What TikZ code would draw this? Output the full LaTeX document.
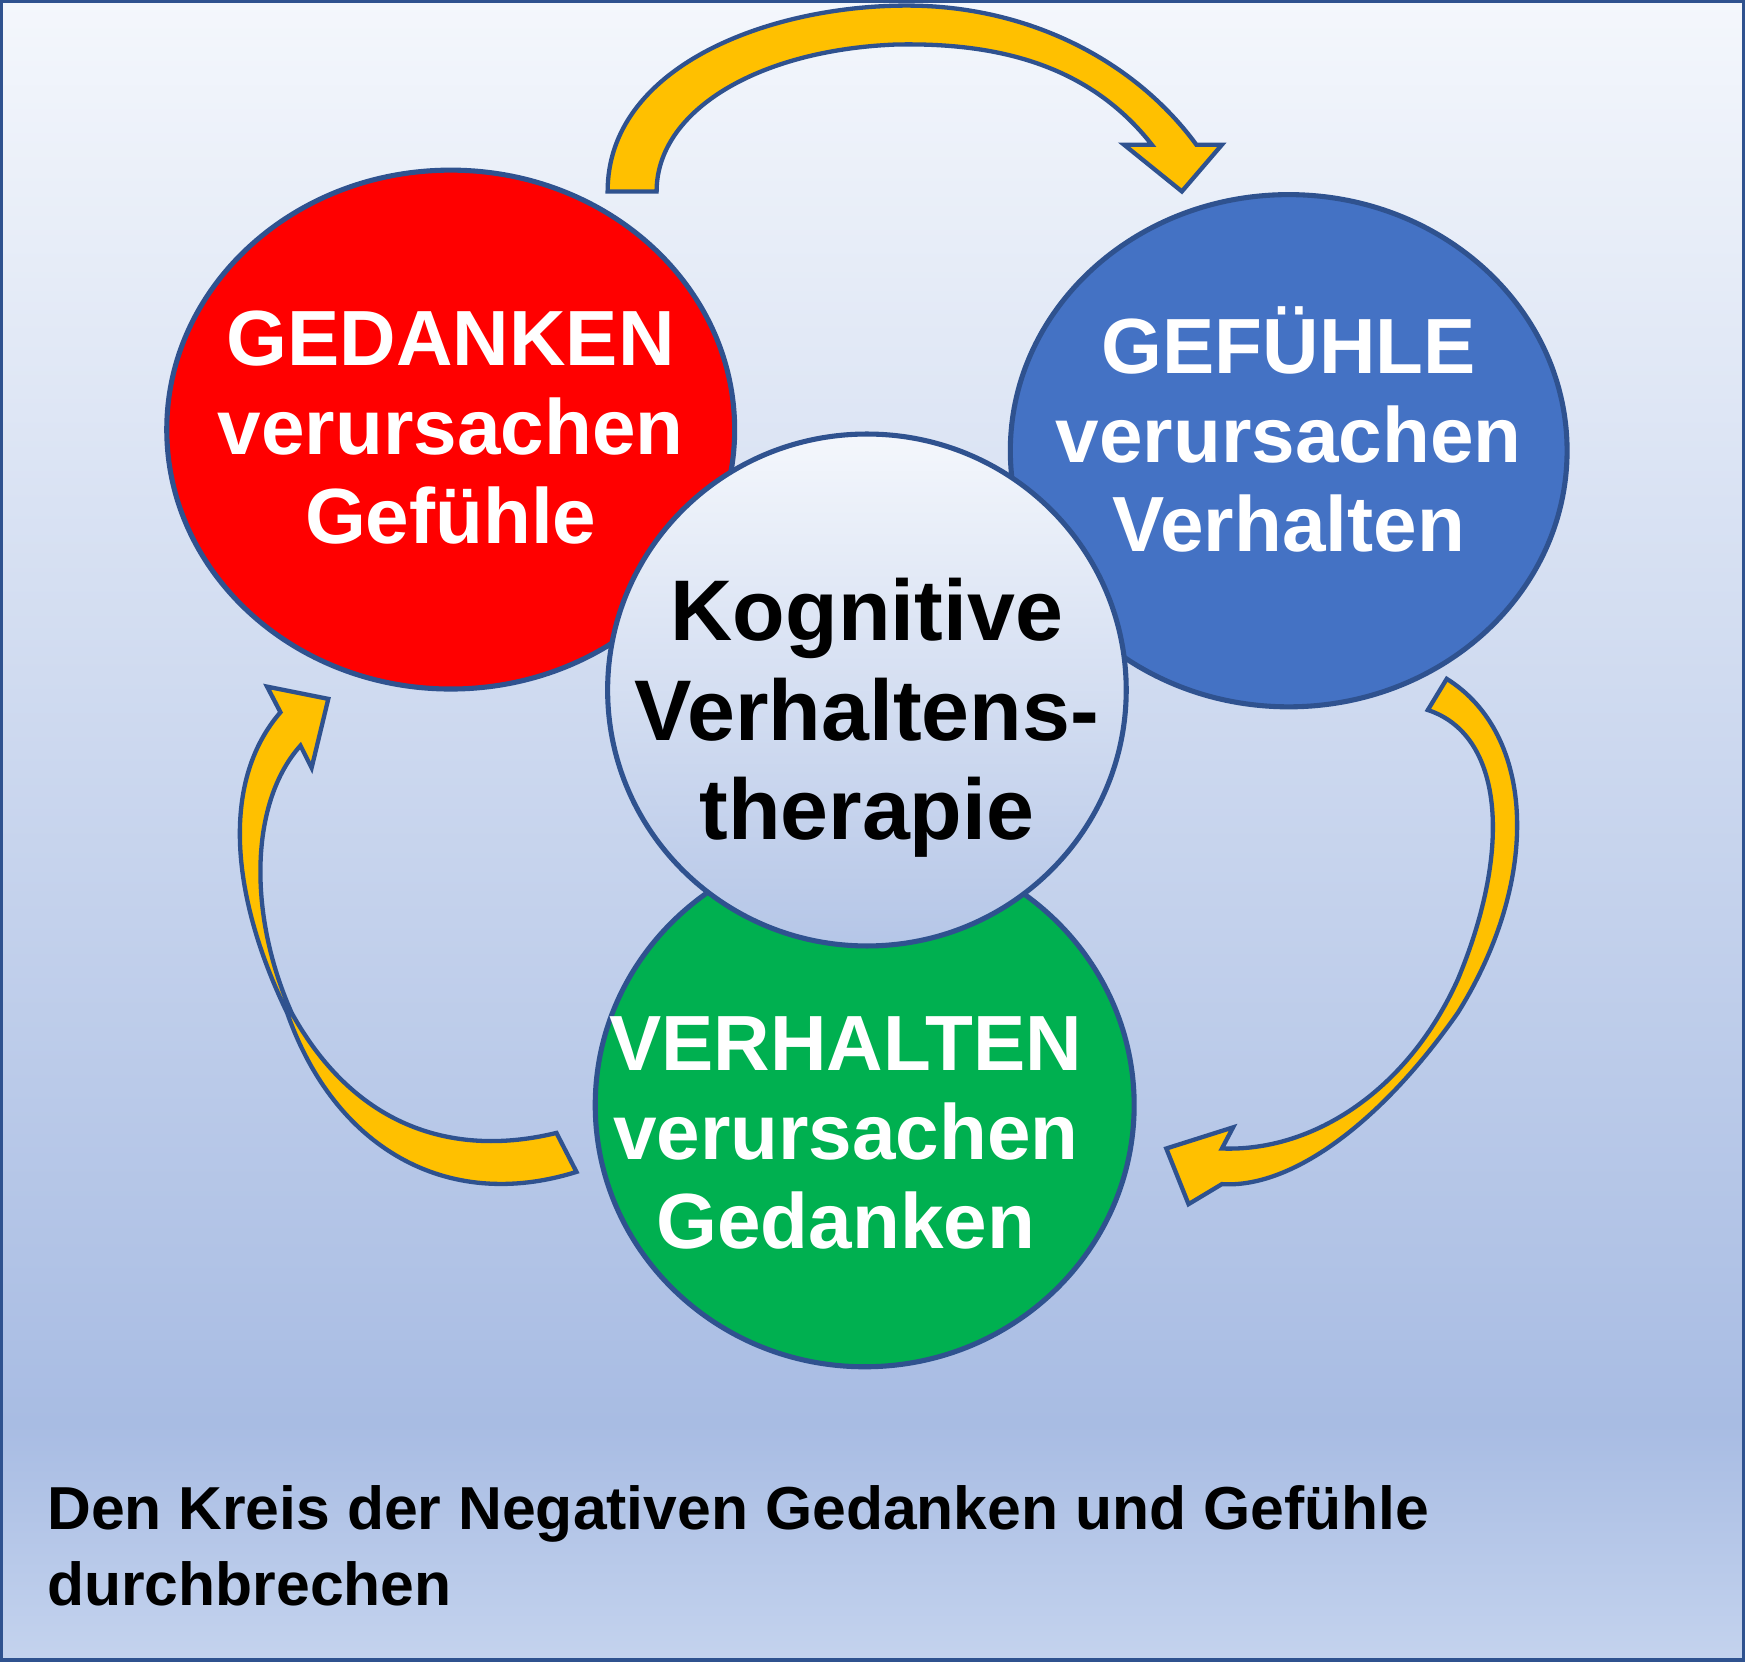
\documentclass[tikz,border=0pt]{standalone}
\usepackage{fontspec}
\setmainfont{Liberation Sans}
\definecolor{edgeblue}{HTML}{2F528F}
\definecolor{gold}{HTML}{FFC000}
\definecolor{bgtop}{HTML}{F4F7FC}
\definecolor{bgmid}{HTML}{A8BCE3}
\definecolor{bgbot}{HTML}{C4D3EE}
\definecolor{cred}{HTML}{FF0000}
\definecolor{cblue}{HTML}{4472C4}
\definecolor{cgreen}{HTML}{00B050}
\tikzset{
  bubble/.style={ellipse,draw=edgeblue,line width=1.3pt,text=white,align=center,
    font=\fontsize{20}{23}\selectfont\bfseries},
  loop arrow/.style={draw=edgeblue,line width=1.1pt,fill=gold,line join=miter},
}
\usetikzlibrary{shapes.geometric}
\begin{document}
\begin{tikzpicture}[x=0.01cm,y=-0.01cm]
\useasboundingbox (0,0) rectangle (1568,1493);
\shade[top color=bgtop,bottom color=bgmid] (0,0) rectangle (1568,1280);
\shade[top color=bgmid,bottom color=bgbot] (0,1280) rectangle (1568,1493);
\draw[edgeblue,line width=1.2pt] (1,1) rectangle (1567,1492);

% the three bubbles
\node[bubble,fill=cred,minimum width=5.1cm,minimum height=4.66cm] (gedanken) at (405,386) {};
\node[bubble,fill=cblue,minimum width=5.0cm,minimum height=4.6cm] (gefuehle) at (1158,405) {};
\node[bubble,fill=cgreen,minimum width=4.84cm,minimum height=4.7cm] (verhalten) at (777,993) {};
\shade[top color=bgtop,bottom color=bgmid!85,draw=edgeblue,line width=1.3pt]
  (779,620) ellipse [x radius=233,y radius=230];
\node[ellipse,minimum width=4.66cm,minimum height=4.6cm] (kvt) at (779,620) {};

\node[text=white,align=center,font=\fontsize{20}{22.8}\selectfont\bfseries] at (405,384) {GEDANKEN\\verursachen\\Gefühle};
\node[text=white,align=center,font=\fontsize{20}{22.8}\selectfont\bfseries] at (1158,386) {GEFÜHLE\\verursachen\\Verhalten};
\node[text=white,align=center,font=\fontsize{20}{22.8}\selectfont\bfseries] at (760,1018) {VERHALTEN\\verursachen\\Gedanken};
\node[align=center,font=\fontsize{22}{25.5}\selectfont\bfseries] at (779,645) {Kognitive\\Verhaltens-\\therapie};

% curved arrows
\draw[loop arrow] (546,172) .. controls (546,60) and (690,5) .. (815,5)
  .. controls (925,5) and (1020,55) .. (1075,130) -- (1098,130) -- (1062,172) -- (1010,130) -- (1035,130)
  .. controls (980,60) and (900,38) .. (805,40) .. controls (680,45) and (590,100) .. (590,172) -- cycle;
\draw[loop arrow] (1300,610) .. controls (1380,660) and (1385,790) .. (1310,910)
  .. controls (1240,1010) and (1160,1068) .. (1098,1064) -- (1068,1082) -- (1048,1032) -- (1108,1013) -- (1098,1032)
  .. controls (1180,1035) and (1265,980) .. (1310,880) .. controls (1360,760) and (1350,660) .. (1283,638) -- cycle;
\draw[loop arrow] (518,1053) .. controls (400,1090) and (300,1030) .. (258,910)
  .. controls (205,800) and (200,700) .. (252,640) -- (240,617) -- (295,628) -- (280,690) -- (270,670)
  .. controls (225,720) and (222,820) .. (262,910) .. controls (320,1015) and (410,1040) .. (500,1018) -- cycle;

\node[anchor=north west,align=left,font=\fontsize{15.5}{19.5}\selectfont\bfseries] (caption) at (30,1322)
  {Den Kreis der Negativen Gedanken und Gefühle\\durchbrechen};
\end{tikzpicture}
\end{document}
